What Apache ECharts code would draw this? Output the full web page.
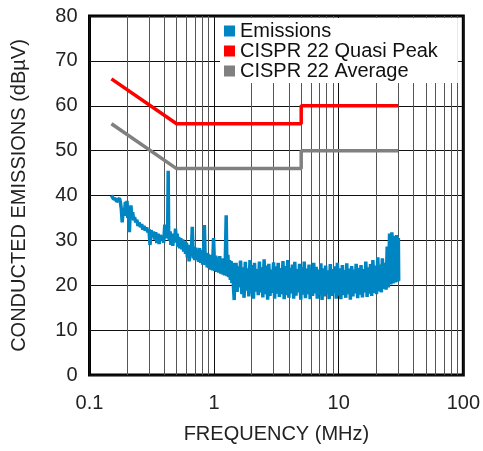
<!DOCTYPE html>
<html>
<head>
<meta charset="utf-8">
<script src="https://cdn.jsdelivr.net/npm/echarts@6/dist/echarts.min.js"></script>
<style>html,body{margin:0;padding:0;background:#fff}#c{width:483px;height:451px}</style>
</head>
<body>
<div id="c"></div>
<script>
var xTicks = [0.1, 1, 10, 100];
var minorGrid = [0.2,0.3,0.4,0.5,0.6,0.7,0.8,0.9,2,3,4,5,6,7,8,9,20,30,40,50,60,70,80,90];
var seriesNames = ['Emissions', 'CISPR 22 Quasi Peak', 'CISPR 22 Average'];

var quasiFreq = [0.15, 0.5, 5, 5, 30];
var quasiVal  = [66, 56, 56, 60, 60];
var avgFreq   = [0.15, 0.5, 5, 5, 30];
var avgVal    = [56, 46, 46, 50, 50];

var emFreq = [
0.150,0.153,0.156,0.159,0.162,0.165,0.168,0.171,0.174,0.177,0.180,0.183,0.186,0.190,0.194,0.197,0.200,0.203,0.206,0.209,
0.212,0.215,0.218,0.222,0.226,0.230,0.235,0.240,0.245,0.250,0.256,0.262,0.268,0.274,0.280,0.287,0.294,0.300,0.306,0.312,
0.319,0.326,0.333,0.340,0.347,0.355,0.362,0.370,0.378,0.386,0.394,0.402,0.410,0.418,0.424,0.428,0.432,0.438,0.444,0.450,
0.458,0.466,0.474,0.482,0.490,0.498,
0.505,0.512,0.52,0.53,0.54,0.55,0.56,0.57,0.58,0.59,0.60,0.61,0.62,0.63,0.645,0.655,0.668,0.68,0.69,0.70,
0.712,0.725,0.738,0.75,0.765,0.78,0.795,0.81,0.825,0.836,0.85,0.865,0.88,0.895,0.91,0.925,0.94,0.955,0.97,0.99,
1.01,1.03,1.05,1.07,1.09,1.11,1.13,1.15,1.17,1.19,1.21,1.23,1.25,1.27,1.29,1.31,1.33,1.35,1.37,1.39,
1.41,1.43,1.45,1.47,1.49,
1.50,1.53,1.56,1.60,1.63,1.67,1.70,1.74,1.78,1.82,1.86,1.90,1.94,1.98,2.02,2.07,2.11,2.16,2.21,2.26,
2.31,2.36,2.41,2.46,2.52,2.57,2.63,2.69,2.75,2.81,2.87,2.93,3.00,3.06,3.13,3.20,3.27,3.34,3.42,3.49,
3.57,3.65,3.73,3.81,3.90,3.98,4.07,4.16,4.25,4.35,4.44,4.54,4.64,4.74,4.85,4.96,5.07,5.18,5.29,5.41,
5.53,5.65,5.78,5.90,6.03,6.17,6.30,6.44,6.59,6.73,6.88,7.03,7.19,7.35,7.51,7.68,7.85,8.02,8.20,8.38,
8.56,8.75,8.95,9.14,9.35,9.55,9.76,9.98,10.2,10.4,10.7,10.9,11.1,11.4,11.6,11.9,12.2,12.4,12.7,13.0,
13.3,13.5,13.8,14.2,14.5,14.8,15.1,15.5,15.8,16.2,16.5,16.9,17.3,17.6,18.0,18.4,18.8,19.3,19.7,20.1,
20.6,21.0,21.5,22.0,22.4,22.9,23.4,24.0,24.5,25.0,25.6,26.2,26.7,27.3,27.9,28.5,29.2,29.8,30.1,30.3
];
var emVal = [
40.0,39.6,39.2,38.8,39.3,38.6,39.0,38.7,39.4,38.5,37.0,34.0,36.5,35.5,38.6,37.0,38.8,35.0,37.5,31.8,
36.0,37.8,35.5,36.3,34.5,35.2,34.0,34.6,33.2,34.0,33.0,33.6,32.4,33.2,32.2,32.9,31.8,32.5,29.0,32.3,
31.0,32.0,30.2,31.8,29.4,31.5,29.2,31.2,30.0,31.0,29.5,33.5,30.5,31.5,33.0,45.5,31.0,30.0,32.0,29.0,
31.5,28.8,31.0,29.5,32.6,30.0,
31.5,28.5,30.8,28.2,30.5,28.0,30.2,27.5,29.8,27.0,29.5,26.2,29.0,25.3,28.8,26.5,33.0,26.0,28.6,25.6,
28.4,25.8,28.0,25.2,28.3,25.0,27.8,24.6,27.5,33.4,24.5,27.2,24.0,27.0,23.8,26.8,23.5,26.5,23.3,30.5,
23.2,26.6,23.0,26.2,22.8,26.5,22.6,25.8,22.4,26.0,22.2,25.6,35.6,22.0,26.8,21.8,25.6,21.2,25.4,20.5,
25.0,19.5,16.7,24.5,19.0,
25.0,18.5,24.2,19.5,25.5,18.0,24.0,17.2,25.2,18.8,23.8,17.5,25.6,18.2,24.5,17.0,25.0,18.6,23.6,17.8,
25.3,18.4,24.0,17.3,25.8,18.0,24.4,16.8,24.8,17.6,23.5,18.3,25.1,17.0,24.2,18.1,25.0,17.4,23.8,18.0,
25.4,16.9,24.3,17.8,25.6,17.2,23.9,18.2,24.6,17.0,25.2,17.7,23.6,18.4,24.8,16.8,24.0,17.9,25.3,17.1,
23.7,18.0,24.6,16.9,23.4,17.6,25.0,18.2,24.1,17.0,23.5,17.8,24.9,16.7,23.8,17.5,24.4,18.1,23.3,16.9,
24.7,17.6,23.6,18.3,24.2,17.0,25.0,17.7,23.8,16.9,24.5,17.8,23.4,17.2,24.9,18.0,23.7,16.8,24.3,17.5,
23.5,18.2,24.8,17.1,23.9,17.9,24.5,17.3,23.6,18.4,25.3,17.4,24.0,18.1,24.7,17.6,25.6,18.3,24.4,18.0,
26.2,18.6,24.6,18.4,26.0,19.2,25.0,19.0,28.6,19.5,31.5,20.2,31.8,20.4,31.0,20.6,31.2,20.8,30.5,21.0
];

function pairs(a, b) { return a.map(function (v, i) { return [v, b[i]]; }); }

var FONT = 'Liberation Sans, Arial, Helvetica, sans-serif';
var chart = echarts.init(document.getElementById('c'), null, {renderer: 'canvas'});
chart.setOption({
  animation: false,
  backgroundColor: '#fff',
  grid: {left: 89.5, right: 16.5, top: 16, bottom: 76, show: true, borderWidth: 3, borderColor: '#000', backgroundColor: 'transparent'},
  legend: {
    data: seriesNames.map(function (n) { return {name: n, icon: 'rect'}; }),
    orient: 'vertical', left: 220, top: 18, padding: [3, 20, 2, 4], itemGap: 0,
    itemWidth: 11, itemHeight: 11, backgroundColor: '#fff', z: 10,
    textStyle: {fontFamily: FONT, fontSize: 20, lineHeight: 19, color: '#111'}
  },
  xAxis: {
    type: 'log', logBase: 10, min: 0.1, max: 100,
    axisLine: {show: false}, axisTick: {show: false},
    axisLabel: {fontFamily: FONT, fontSize: 20, color: '#222', margin: 18,
      formatter: function (v) { return xTicks.indexOf(+v.toPrecision(3)) >= 0 ? String(+v.toPrecision(3)) : ''; }},
    splitLine: {show: true, lineStyle: {color: '#111', width: 1}},
    name: 'FREQUENCY (MHz)', nameLocation: 'middle', nameGap: 49,
    nameTextStyle: {fontFamily: FONT, fontSize: 20, color: '#222'}
  },
  yAxis: {
    type: 'value', min: 0, max: 80, interval: 10,
    axisLine: {show: false}, axisTick: {show: false},
    axisLabel: {fontFamily: FONT, fontSize: 20, color: '#222', margin: 12},
    splitLine: {show: true, lineStyle: {color: '#111', width: 1}},
    name: 'CONDUCTED EMISSIONS (dBµV)', nameLocation: 'middle', nameGap: 60,
    nameTextStyle: {fontFamily: FONT, fontSize: 20, color: '#222'}
  },
  series: [
    {name: seriesNames[0], type: 'line', data: pairs(emFreq, emVal), showSymbol: false, symbol: 'none',
     color: '#0085C3', lineStyle: {width: 3.5, color: '#0085C3'}, z: 3, silent: true},
    {name: seriesNames[1], type: 'line', data: pairs(quasiFreq, quasiVal), showSymbol: false, symbol: 'none',
     color: '#FF0000', lineStyle: {width: 3.5, color: '#FF0000'}, z: 3, silent: true},
    {name: seriesNames[2], type: 'line', data: pairs(avgFreq, avgVal), showSymbol: false, symbol: 'none',
     color: '#808080', lineStyle: {width: 3.5, color: '#808080'}, z: 3, silent: true,
     markLine: {silent: true, symbol: 'none', z: 1, animation: false,
       label: {show: false},
       lineStyle: {type: 'solid', color: '#555', width: 1},
       data: minorGrid.map(function (f) { return {xAxis: f}; })}}
  ]
});
</script>
</body>
</html>
